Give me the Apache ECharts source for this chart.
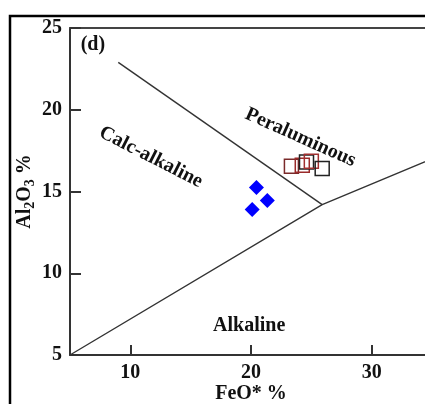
<!DOCTYPE html>
<html>
<head>
<meta charset="utf-8">
<script src="https://cdn.jsdelivr.net/npm/echarts@6/dist/echarts.min.js"></script>
<style>
html,body{margin:0;padding:0;background:#fff;}
#chart{width:425px;height:404px;}
</style>
</head>
<body>
<div id="chart"></div>
<script>
// Axis ticks
const xTicks = [10, 20, 30];
const yTicks = [5, 10, 15, 20, 25];

// Field boundaries (FeO*, Al2O3)
const lowerBoundary = [[5, 5], [25.9, 14.2], [35, 17.0]];
const upperBoundary = [[9.0, 22.9], [25.9, 14.2]];

// Samples: group 1 (filled diamonds)
const diamondFeO = [20.45, 21.35, 20.1];
const diamondAl = [15.25, 14.45, 13.9];

// Samples: group 2 (open squares)
const squareFeO = [23.35, 24.25, 24.6, 25.0, 25.9];
const squareAl = [16.55, 16.6, 16.8, 16.85, 16.4];
const squareColor = ['#7a2a2a', '#9a2a2a', '#222222', '#a03030', '#222222'];

// Field names
const fieldNames = ['Calc-alkaline', 'Peraluminous', 'Alkaline'];
const fieldPos = [[11.7, 17.1], [24.1, 18.3], [19.85, 6.8]];
const fieldRot = [-27, -24, 0];

const serif = '"Liberation Serif", "Times New Roman", serif';
const ink = '#111';
const fs = 20;
const chart = echarts.init(document.getElementById('chart'));

const textLabel = {
  show: true, position: 'inside', formatter: p => p.name,
  fontFamily: serif, fontWeight: 'bold', fontSize: fs, color: ink
};

chart.setOption({
  animation: false,
  backgroundColor: '#fff',
  grid: { left: 70, top: 28, right: -7, bottom: 49, containLabel: false, outerBoundsMode: 'none' },
  xAxis: [{
    type: 'value', min: 5, max: 35, interval: 5,
    name: 'FeO* %', nameLocation: 'middle', nameGap: 29, nameMoveOverlap: false,
    nameTextStyle: { fontFamily: serif, fontWeight: 'bold', fontSize: fs, color: ink },
    axisLine: { lineStyle: { color: '#333', width: 2 } },
    axisTick: { inside: true, length: 10, lineStyle: { color: '#333', width: 2 },
      customValues: xTicks },
    axisLabel: { fontFamily: serif, fontWeight: 'bold', fontSize: fs, color: ink, margin: 8,
      customValues: xTicks },
    splitLine: { show: false }
  }, {
    type: 'value', min: 5, max: 35, position: 'top',
    axisLine: { show: true, onZero: false, lineStyle: { color: '#444', width: 2 } },
    axisTick: { show: false }, axisLabel: { show: false }, splitLine: { show: false }
  }],
  yAxis: {
    type: 'value', min: 5, max: 25, interval: 5,
    name: '{n|Al}{s|2}{n|O}{s|3}{n| %}', nameLocation: 'middle', nameGap: 32, nameRotate: 90,
    nameMoveOverlap: false,
    nameTextStyle: {
      color: ink,
      rich: {
        n: { fontFamily: serif, fontWeight: 'bold', fontSize: fs, color: ink, lineHeight: 26 },
        s: { fontFamily: serif, fontWeight: 'bold', fontSize: 14, color: ink, lineHeight: 26, padding: [10, 0, 0, 0] }
      }
    },
    axisLine: { show: true, lineStyle: { color: '#333', width: 2 } },
    axisTick: { inside: true, length: 11, lineStyle: { color: '#333', width: 2 } },
    axisLabel: { fontFamily: serif, fontWeight: 'bold', fontSize: fs, color: ink, margin: 8 },
    splitLine: { show: false }
  },
  graphic: [
    { type: 'rect', shape: { x: 10, y: 16, width: 440, height: 420 },
      style: { fill: 'none', stroke: '#000', lineWidth: 2.5 }, z: 100 },
    { type: 'text', left: 118, top: -27,
      style: { text: '(Figure 9)', fontFamily: serif, fontWeight: 'bold', fontSize: 22, fill: ink } }
  ],
  series: [
    { type: 'line', data: lowerBoundary, symbol: 'none',
      lineStyle: { color: '#333', width: 1.4 }, z: 2 },
    { type: 'line', data: upperBoundary, symbol: 'none',
      lineStyle: { color: '#333', width: 1.4 }, z: 2 },
    { type: 'scatter', data: diamondFeO.map((v, i) => [v, diamondAl[i]]),
      symbol: 'diamond', symbolSize: 15,
      itemStyle: { color: '#0000ff', opacity: 1 }, z: 5 },
    { type: 'scatter',
      data: squareFeO.map((v, i) => ({ value: [v, squareAl[i]],
        itemStyle: { borderColor: squareColor[i] } })),
      symbol: 'rect', symbolSize: 14,
      itemStyle: { color: 'rgba(0,0,0,0)', borderWidth: 1.5, opacity: 1 }, z: 5 },
    { type: 'scatter', symbolSize: 0, silent: true, itemStyle: { opacity: 1 },
      data: fieldNames.map((n, i) => ({ value: fieldPos[i], name: n,
        label: { rotate: fieldRot[i] } })),
      label: textLabel, z: 6 },
    { type: 'scatter', symbolSize: 0, silent: true, itemStyle: { opacity: 1 },
      data: [{ value: [6.9, 23.95], name: '(d)' }],
      label: textLabel, z: 6 }
  ]
});
</script>
</body>
</html>
